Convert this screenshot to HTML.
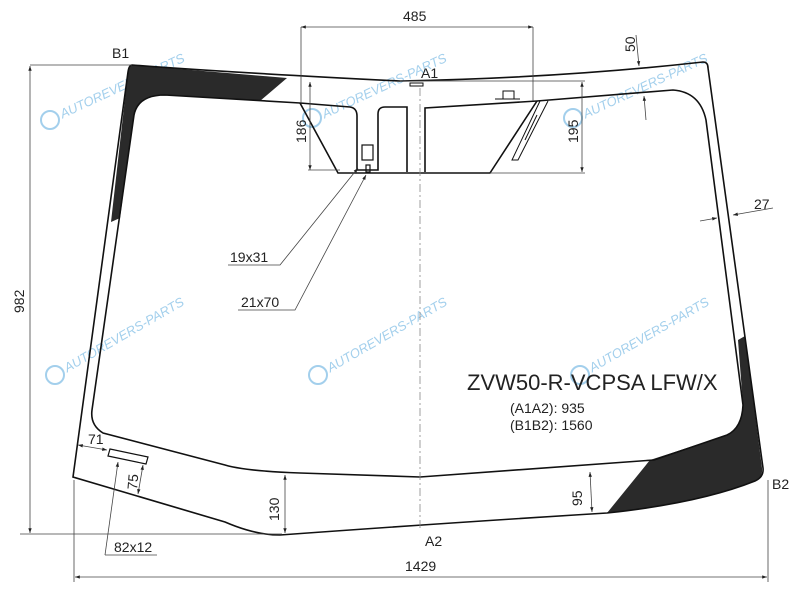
<!DOCTYPE html>
<html><head><meta charset="utf-8"><style>
html,body{margin:0;padding:0;background:#fff;}
svg{display:block;}
text{font-family:"Liberation Sans",sans-serif;fill:#222;}
.wm{fill:#8cc4e8;font-size:13px;font-style:italic;}
</style></head><body>
<svg width="800" height="600" viewBox="0 0 800 600" xmlns="http://www.w3.org/2000/svg">
<defs>
<marker id="a" viewBox="0 0 10 10" refX="10" refY="5" markerWidth="9" markerHeight="6" orient="auto-start-reverse"><path d="M0,1.5 L10,5 L0,8.5 z" fill="#222"/></marker>
</defs>
<rect width="800" height="600" fill="#fff"/>
<g opacity="0.8">
<g transform="translate(50,120) rotate(-25)"><text class="wm" x="12" y="4">AUTOREVERS-PARTS</text></g>
<g transform="translate(312,120) rotate(-25)"><text class="wm" x="12" y="4">AUTOREVERS-PARTS</text></g>
<g transform="translate(573,120) rotate(-25)"><text class="wm" x="12" y="4">AUTOREVERS-PARTS</text></g>
<g transform="translate(55,375) rotate(-30)"><text class="wm" x="12" y="4">AUTOREVERS-PARTS</text></g>
<g transform="translate(318,375) rotate(-30)"><text class="wm" x="12" y="4">AUTOREVERS-PARTS</text></g>
<g transform="translate(580,375) rotate(-30)"><text class="wm" x="12" y="4">AUTOREVERS-PARTS</text></g>
<circle cx="50" cy="120" r="9" fill="none" stroke="#8cc4e8" stroke-width="2"/>
<circle cx="312" cy="118" r="9" fill="none" stroke="#8cc4e8" stroke-width="2"/>
<circle cx="573" cy="118" r="9" fill="none" stroke="#8cc4e8" stroke-width="2"/>
<circle cx="55" cy="375" r="9" fill="none" stroke="#8cc4e8" stroke-width="2"/>
<circle cx="318" cy="375" r="9" fill="none" stroke="#8cc4e8" stroke-width="2"/>
<circle cx="580" cy="375" r="9" fill="none" stroke="#8cc4e8" stroke-width="2"/>
</g>
<path d="M132,65 L287,78 L260,101 L165,95 Q138,95 134,115 L120,218 L111,222 L128,72 Q129,66 132,65 Z" fill="#2a2a2a"/>
<path d="M738,340 L745,336 L762,468 Q763,478 755,481 Q700,503 607,513 L650,460 L727,435 Q742,428 743,405 Z" fill="#2a2a2a"/>
<g fill="none" stroke="#111" stroke-width="1.6">
<path d="M132,65 Q220,72 400,81 Q560,78 703,62 Q708,62 708,68 L763,468 Q764,477 755,481 Q700,503 607,513 Q460,522 280,535 Q255,535 225,522 L73,477 L128,72 Q129,65 132,65 Z"/>
<path d="M300,103 L165,95 Q138,95 134,115 L92,410 Q90,425 103,433 L225,465 Q245,471 300,473 L420,477 L654,460 L727,435 Q742,428 743,405 L706,120 Q700,92 673,90 L537,101"/>
<path d="M300,103 L338,173 L490,173 L537,101"/>
<path d="M300,103 L350,107 Q357,108 357,116 L357,170 L378,170 L378,114 Q378,107 385,107 L407,107 L407,172"/>
<path d="M425,172 L425,108 L537,101"/>
<rect x="362" y="145" width="11" height="15" stroke-width="1.2"/>
<rect x="366" y="165" width="4" height="7" stroke-width="1.2"/>
<rect x="410" y="83" width="13" height="3" stroke-width="1"/>
<rect x="503" y="91" width="11" height="8" stroke-width="1"/>
<path d="M495,99 L520,99" stroke-width="1"/>
<path d="M540,101 L512,160 L518,160 L548,101 M537,115 L525,140" stroke-width="1"/>
<path d="M110,449 L148,457 L146,464 L108,456 Z" stroke-width="1.2"/>
</g>
<path d="M420,88 L420,530" stroke="#888" stroke-width="0.8" stroke-dasharray="8,3,2,3" fill="none"/>
<g stroke="#444" stroke-width="0.8" fill="none">
<path d="M301,27 L301,103 M533,27 L533,101"/>
<path d="M301,27 L533,27" marker-start="url(#a)" marker-end="url(#a)"/>
<path d="M310,82 L310,170" marker-start="url(#a)" marker-end="url(#a)"/>
<path d="M308,170 L340,170"/>
<path d="M400,81 L585,81 M490,173 L585,173"/>
<path d="M582,82 L582,172" marker-start="url(#a)" marker-end="url(#a)"/>
<path d="M636,35 L639,66" marker-end="url(#a)"/>
<path d="M646,120 L644,96" marker-end="url(#a)"/>
<path d="M700,221 L717,218" marker-end="url(#a)"/>
<path d="M773,208 L733,215" marker-end="url(#a)"/>
<path d="M30,65 L132,65 M20,534 L282,534"/>
<path d="M30,66 L30,533" marker-start="url(#a)" marker-end="url(#a)"/>
<path d="M74,480 L74,582 M768,480 L768,582"/>
<path d="M75,577 L767,577" marker-start="url(#a)" marker-end="url(#a)"/>
<path d="M285,475 L285,533" marker-start="url(#a)" marker-end="url(#a)"/>
<path d="M590,472 L592,512" marker-start="url(#a)" marker-end="url(#a)"/>
<path d="M78,445 L107,450" marker-start="url(#a)" marker-end="url(#a)"/>
<path d="M143,465 L138,494" marker-start="url(#a)" marker-end="url(#a)"/>
<path d="M105,555 L118,462" marker-end="url(#a)"/>
<path d="M105,555 L157,555"/>
<path d="M228,265 L280,265 L358,168" marker-end="url(#a)"/>
<path d="M238,310 L295,310 L366,175" marker-end="url(#a)"/>
</g>
<g font-size="14">
<text x="403" y="21">485</text>
<text x="112" y="58">B1</text>
<text x="421" y="78">A1</text>
<text x="425" y="546">A2</text>
<text x="772" y="489">B2</text>
<text transform="translate(306,143) rotate(-90)">186</text>
<text transform="translate(578,143) rotate(-90)">195</text>
<text transform="translate(635,52) rotate(-90)">50</text>
<text x="754" y="209">27</text>
<text transform="translate(24,313) rotate(-90)">982</text>
<text x="405" y="571">1429</text>
<text transform="translate(279,521) rotate(-90)">130</text>
<text transform="translate(582,506) rotate(-90)">95</text>
<text x="88" y="444">71</text>
<text transform="translate(137,490) rotate(-85)">75</text>
<text x="114" y="552">82x12</text>
<text x="230" y="262">19x31</text>
<text x="241" y="307">21x70</text>
</g>
<text x="467" y="390" font-size="22">ZVW50-R-VCPSA LFW/X</text>
<text x="510" y="413" font-size="14">(A1A2): 935</text>
<text x="510" y="430" font-size="14">(B1B2): 1560</text>
</svg>
</body></html>
